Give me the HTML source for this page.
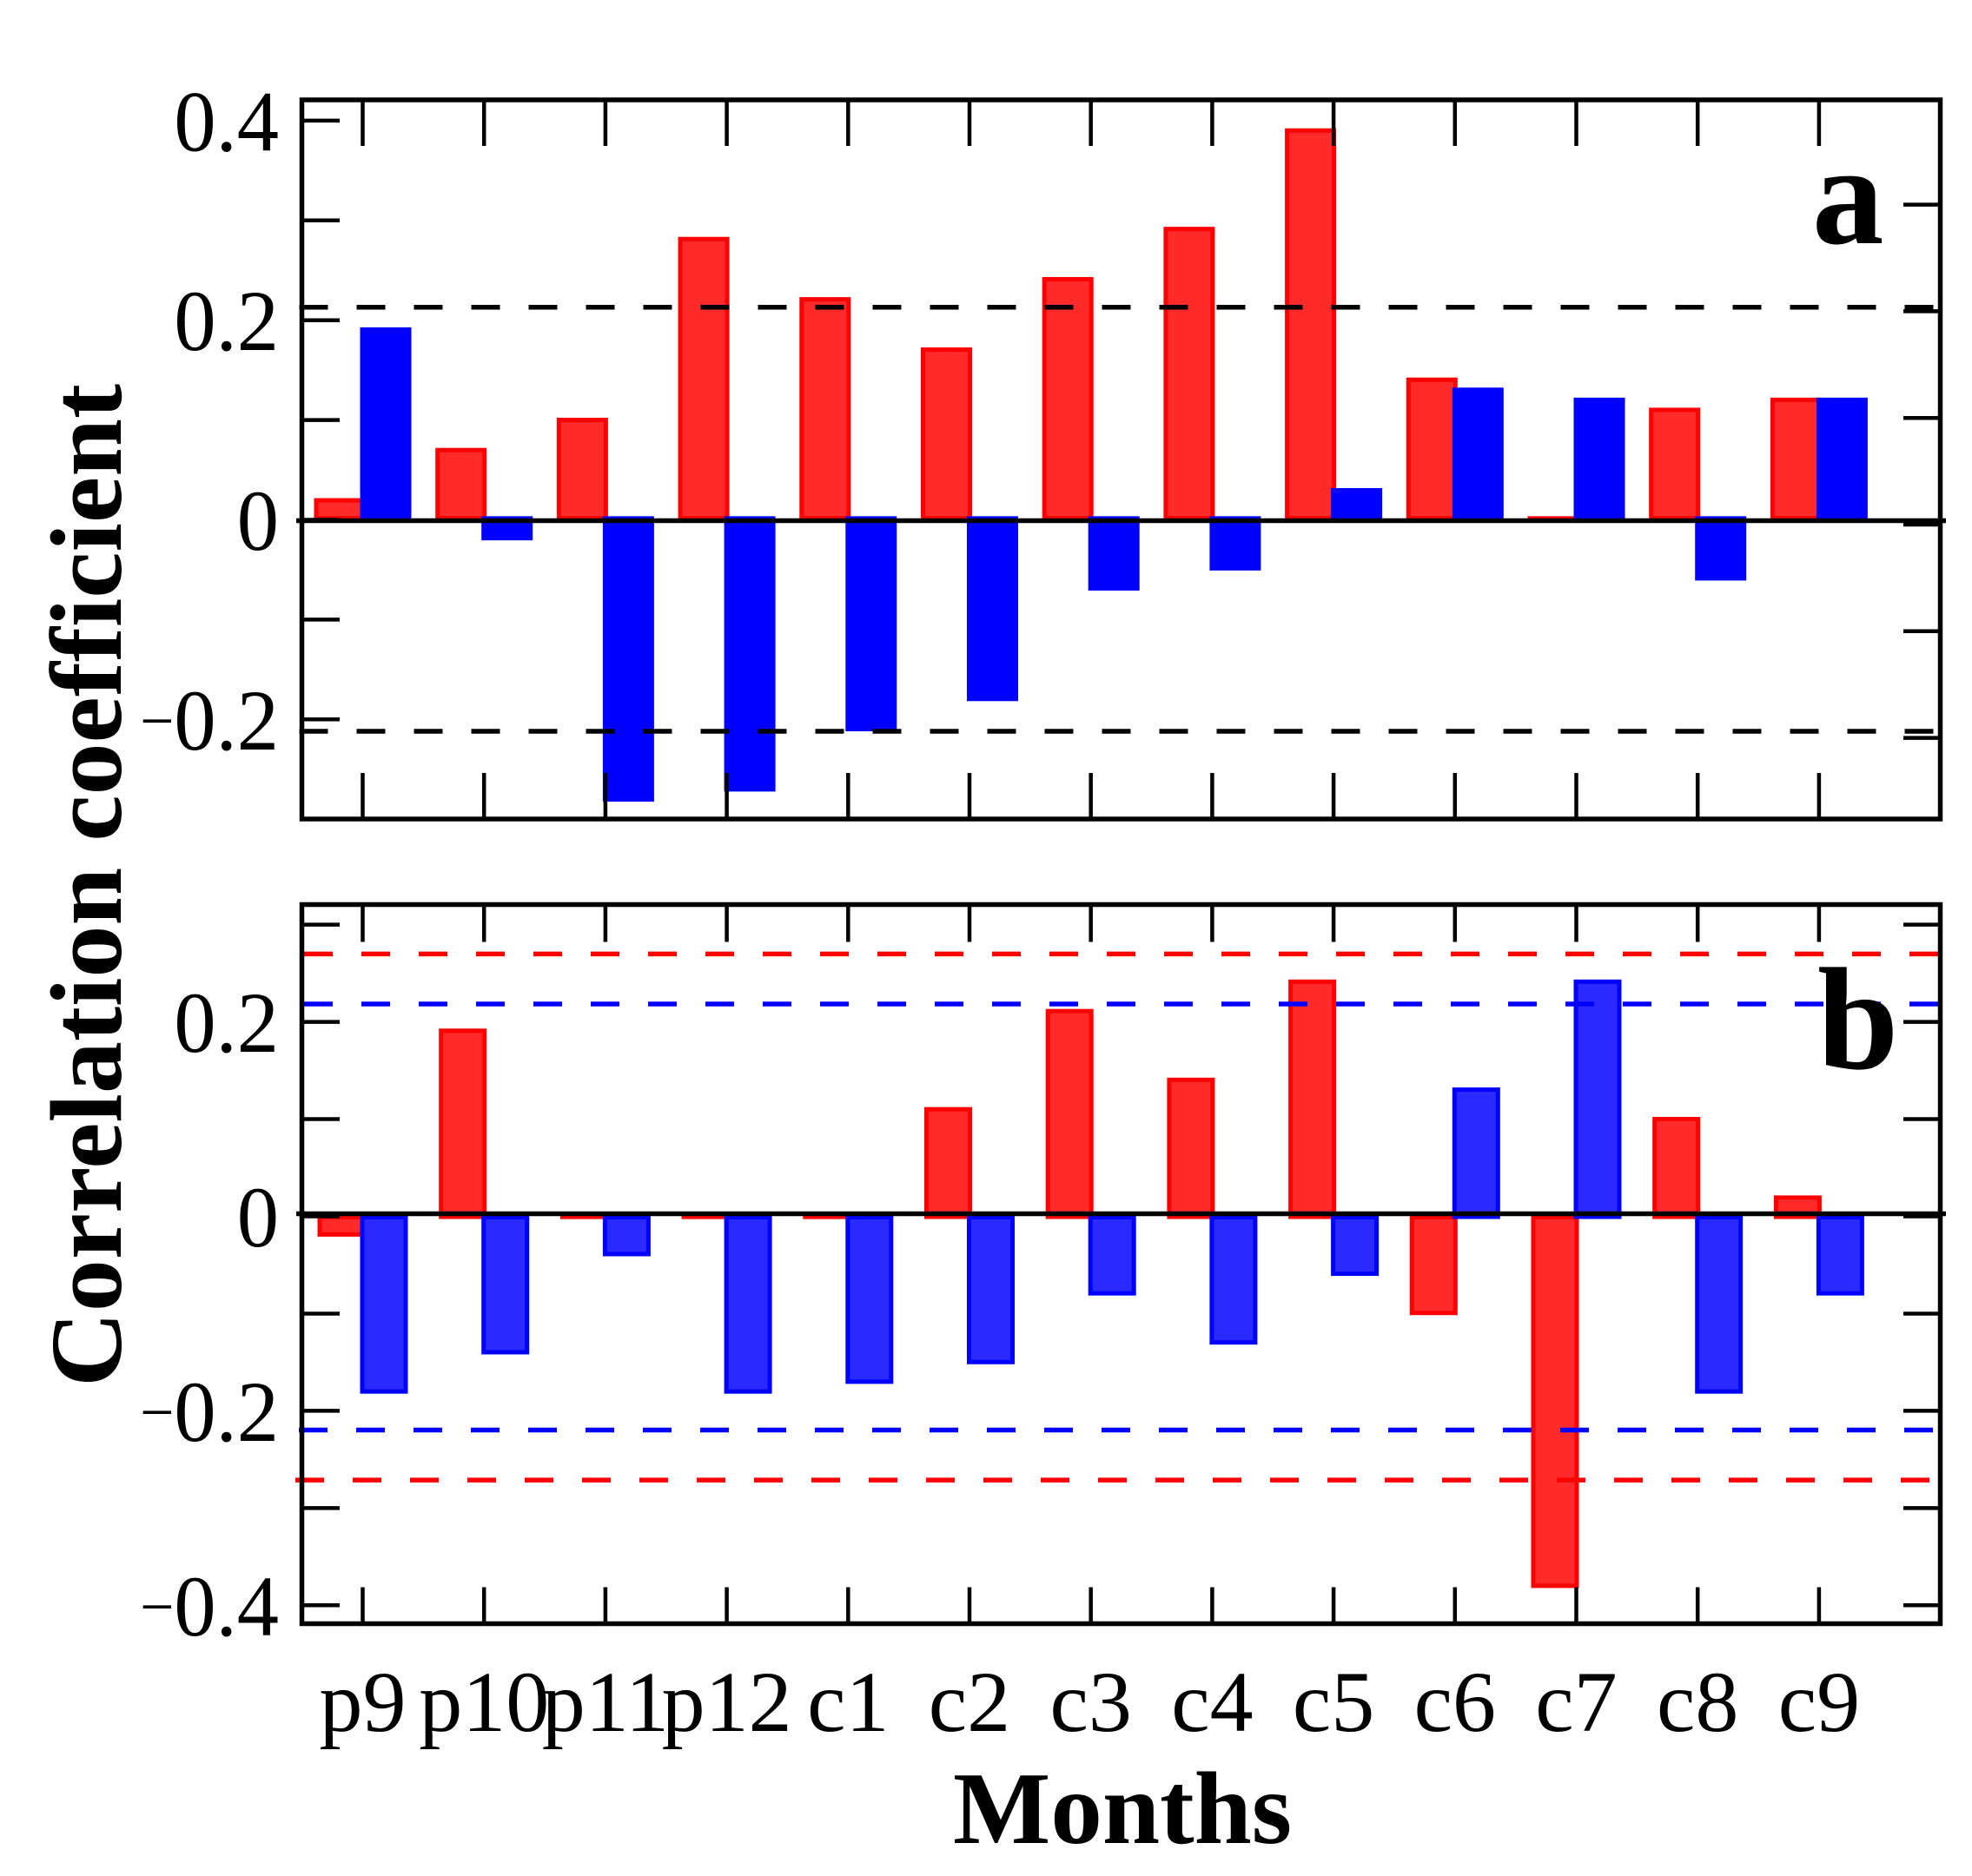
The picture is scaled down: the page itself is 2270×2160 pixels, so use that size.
<!DOCTYPE html>
<html>
<head>
<meta charset="utf-8">
<title>Correlation coefficient by month</title>
<style>
html,body{margin:0;padding:0;background:#fff;}
svg{display:block;font-family:"Liberation Serif",serif;}
</style>
</head>
<body>
<svg id="chart" xmlns="http://www.w3.org/2000/svg" width="2270" height="2160" viewBox="0 0 2270 2160">
  <rect x="0" y="0" width="2270" height="2160" fill="#ffffff"/>
  <g id="panelA"></g>
  <g id="panelB"></g>
  <g id="xLabels"></g>
  <text transform="translate(139,1597) rotate(-90)" font-size="118" font-weight="bold" textLength="1155" lengthAdjust="spacingAndGlyphs">Correlation coefficient</text>
  <text x="1097" y="2122" font-size="119" font-weight="bold">Months</text>
  <text x="2086" y="280" font-size="165" font-weight="bold">a</text>
  <text x="2092" y="1230" font-size="168" font-weight="bold">b</text>
</svg>
<script>
const months = ["p9","p10","p11","p12","c1","c2","c3","c4","c5","c6","c7","c8","c9"];
const panelARed = [0.022,0.072,0.102,0.282,0.222,0.172,0.242,0.292,0.39,0.142,0.004,0.112,0.122];
const panelABlue = [0.192,-0.02,-0.28,-0.27,-0.21,-0.18,-0.07,-0.05,0.032,0.132,0.122,-0.06,0.122];
const panelBRed = [-0.022,0.19,0,0,0,0.11,0.21,0.14,0.24,-0.102,-0.38,0.10,0.02];
const panelBBlue = [-0.182,-0.142,-0.042,-0.182,-0.172,-0.152,-0.082,-0.132,-0.062,0.13,0.24,-0.182,-0.082];
const panelAThresholds = [0.212,-0.210];
const panelBRedThresholds = [0.266,-0.270];
const panelBBlueThresholds = [0.215,-0.219];
const panelALeftTicks = [0.4,0.3,0.2,0.1,0,-0.1,-0.2];
const panelARightTicks = [0.3,0.2,0.1,0,-0.1,-0.2];
const panelBTicks = [0.3,0.2,0.1,0,-0.1,-0.2,-0.3,-0.4];
const panelATickLabels = ["0.4","0.2","0","\u22120.2"];
const panelATickLabelValues = [0.4,0.2,0,-0.2];
const panelBTickLabels = ["0.2","0","\u22120.2","\u22120.4"];
const panelBTickLabelValues = [0.2,0,-0.2,-0.4];

const NS = "http://www.w3.org/2000/svg";
const L = 347.5, R = 2233.5;
function xTick(i){ return 417.5 + 139.7 * i; }
function make(parent, tag, attrs, text){
  const el = document.createElementNS(NS, tag);
  for (const k in attrs) el.setAttribute(k, attrs[k]);
  if (text !== undefined) el.textContent = text;
  parent.appendChild(el);
  return el;
}
function drawBars(g, values, series, axis, cfg){
  values.forEach(function(v, i){
    const t = xTick(i);
    const x0 = series === "red" ? t - cfg.barOut : t - 3;
    const w = cfg.barOut + 3;
    const top = axis(Math.max(v, cfg.baseTop));
    const bot = axis(Math.min(v, cfg.baseBottom));
    const fill = series === "red" ? "#ff2a2a" : cfg.blueFill;
    const stroke = series === "red" ? "#ff0000" : "#0000ff";
    const h = bot - top;
    const sw = Math.min(5, h);
    const r = make(g, "rect", {x:x0+sw/2, y:top+sw/2, width:w-sw, height:Math.max(h-sw, 0.1), fill:fill, stroke:stroke, "stroke-width":sw});
    
    
  });
}
function drawFrame(g, top, bottom){
  const f = make(g, "rect", {x:L, y:top, width:R-L, height:bottom-top, fill:"none", stroke:"#000", "stroke-width":5.5});
  
  
}
function drawXTicks(g, top, bottom, lenTop, lenBottom){
  months.forEach(function(m, i){
    const x = xTick(i);
    const a = make(g, "line", {x1:x, x2:x, y1:top, y2:top+lenTop, stroke:"#000", "stroke-width":4.5});
    
    
    const b = make(g, "line", {x1:x, x2:x, y1:bottom-lenBottom, y2:bottom, stroke:"#000", "stroke-width":4.5});
    
    
  });
}
function drawYTicks(g, ticks, axis, x1, x2, side){
  ticks.forEach(function(v){
    const y = axis(v);
    const t = make(g, "line", {x1:x1, x2:x2, y1:y, y2:y, stroke:"#000", "stroke-width":4.5});
    
    
  });
}
function drawThreshold(g, v, axis, color, startX, endX, name){
  const y = axis(v);
  const d = make(g, "line", {x1:startX, x2:endX, y1:y, y2:y, stroke:color, "stroke-width":5.5, "stroke-dasharray":"33 33"});
  
  
}
function drawZero(g, y){
  const z = make(g, "line", {x1:341, x2:2240, y1:y, y2:y, stroke:"#000", "stroke-width":5.5});
  
  
}
function drawLabels(g, labels, values, axis, off){
  labels.forEach(function(s, i){
    const t = make(g, "text", {transform:"translate(321," + (axis(values[i]) + off) + ") scale(0.965,1)", "text-anchor":"end", "font-size":100, fill:"#000"});
    
    
    if (s.charAt(0) === "\u2212") {
      make(t, "tspan", {"font-size":72, dy:-9}, s.charAt(0));
      make(t, "tspan", {dy:9}, s.slice(1));
    } else {
      t.textContent = s;
    }
  });
}

/* Panel a */
const gA = document.getElementById("panelA");
function aBarY(v){ return 599 - 1157 * v; }
function aLeftY(v){ return 598.5 - 1149 * v; }
function aRightY(v){ return 604 - 1228 * v; }
function drawPanelABars(){
  const cfgRed = {barOut:56, blueFill:"#0000ff", baseTop:0, baseBottom:0};
  drawBars(gA, panelARed, "red", aBarY, cfgRed);
  const blue = make(gA, "g", {});
  
  
  const cfgBlue = {barOut:56, blueFill:"#0000ff", baseTop:0.004, baseBottom:0};
  drawBars(blue, panelABlue, "blue", aBarY, cfgBlue);
}
drawPanelABars();
drawXTicks(gA, 115, 943, 53, 53);
drawYTicks(gA, panelALeftTicks, aLeftY, L, 391, "left");
drawYTicks(gA, panelARightTicks, aRightY, 2191, R, "right");
panelAThresholds.forEach(function(v){
  drawThreshold(gA, v, aBarY, "#000", 344.5, R, "significance-line-black");
});
drawZero(gA, 599.5);
drawFrame(gA, 115, 943);
drawLabels(gA, panelATickLabels, panelATickLabelValues, aLeftY, 34.5);

/* Panel b */
const gB = document.getElementById("panelB");
function bBarY(v){ return 1399 - 1130 * v; }
function bTickY(v){ return 1400.5 - 1119.5 * v; }
function drawPanelBBars(){
  const cfg = {barOut:52, blueFill:"#2a2aff", baseTop:0, baseBottom:-0.004};
  drawBars(gB, panelBRed, "red", bBarY, cfg);
  const blue = make(gB, "g", {});
  
  
  drawBars(blue, panelBBlue, "blue", bBarY, cfg);
}
drawPanelBBars();
drawXTicks(gB, 1041.5, 1869.5, 43, 42);
drawYTicks(gB, panelBTicks, bTickY, L, 391, "left");
drawYTicks(gB, panelBTicks, bTickY, 2191, R, "right");
panelBRedThresholds.forEach(function(v, i){
  drawThreshold(gB, v, bBarY, "#ff0000", i === 0 ? 350 : 340, R, "significance-line-red");
});
panelBBlueThresholds.forEach(function(v, i){
  drawThreshold(gB, v, bBarY, "#0000ff", i === 0 ? 350 : 344, R, "significance-line-blue");
});
drawZero(gB, 1397.5);
drawFrame(gB, 1041.5, 1869.5);
drawLabels(gB, panelBTickLabels, panelBTickLabelValues, bTickY, 34.5);

/* Month labels */
const gX = document.getElementById("xLabels");
months.forEach(function(m, i){
  const t = make(gX, "text", {x:xTick(i), y:1993, "text-anchor":"middle", "font-size":100, fill:"#000"}, m);
  
  
});
</script>
</body>
</html>
